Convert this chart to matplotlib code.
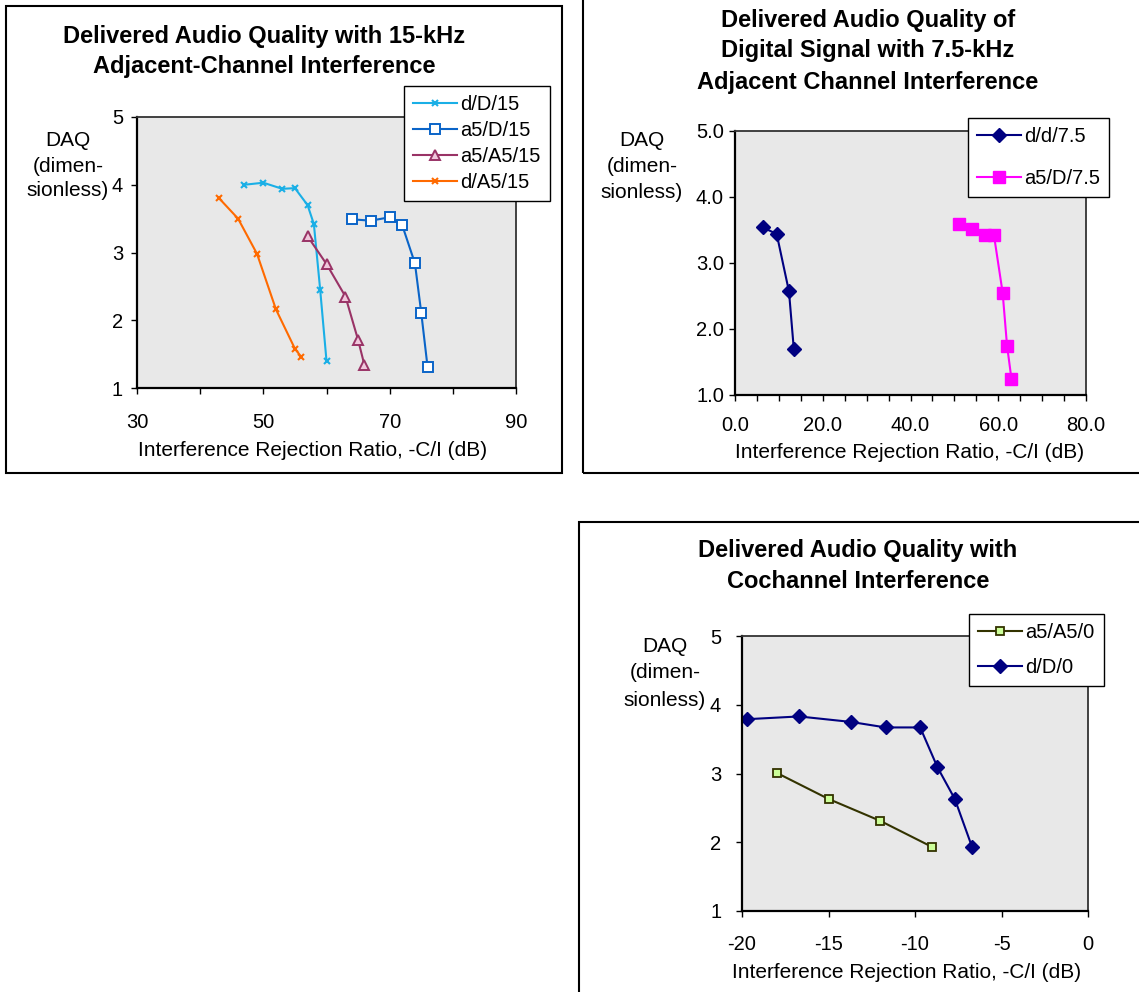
import matplotlib.pyplot as plt
from matplotlib.patches import Rectangle
from matplotlib.ticker import MultipleLocator, FormatStrFormatter

plt.rcParams['font.family'] = ['Liberation Sans', 'DejaVu Sans']
plt.rcParams['axes.unicode_minus'] = False

W, H = 1139, 992

#---------------- data ----------------
# 15 kHz adjacent channel
dD15_x = [47, 50, 53, 55, 57, 58, 59, 60]
dD15_y = [4.00, 4.03, 3.94, 3.95, 3.70, 3.42, 2.45, 1.40]
a5D15_x = [64, 67, 70, 72, 74, 75, 76]
a5D15_y = [3.49, 3.47, 3.52, 3.40, 2.84, 2.11, 1.31]
a5A515_x = [57, 60, 63, 65, 66]
a5A515_y = [3.24, 2.83, 2.35, 1.71, 1.34]
dA515_x = [43, 46, 49, 52, 55, 56]
dA515_y = [3.80, 3.50, 2.98, 2.16, 1.58, 1.46]

# 7.5 kHz adjacent channel
dd75_x = [6.3, 9.5, 12.3, 13.4]
dd75_y = [3.54, 3.44, 2.57, 1.70]
a5D75_x = [51, 54, 57, 59, 61, 62, 63]
a5D75_y = [3.59, 3.51, 3.42, 3.43, 2.55, 1.75, 1.25]

# cochannel
a5A50_x = [-18, -15, -12, -9]
a5A50_y = [3.01, 2.63, 2.31, 1.93]
dD0_x = [-19.7, -16.7, -13.7, -11.7, -9.7, -8.7, -7.7, -6.7]
dD0_y = [3.79, 3.83, 3.75, 3.67, 3.67, 3.09, 2.63, 1.93]

xlabel = 'Interference Rejection Ratio, -C/I (dB)'
ylabel_lines = ['DAQ', '(dimen-', 'sionless)']

TITLE_FS = 17
LABEL_FS = 15
TICK_FS = 14.5

#---------------- helpers ----------------
def fx(x):
    return x / W

def fy(y):
    return 1 - y / H

def make_axes(fig, x0, y0, x1, y1):
    ax = fig.add_axes([fx(x0), fy(y1), (x1 - x0) / W, (y1 - y0) / H])
    ax.set_facecolor('#E8E8E8')
    for s in ['left', 'bottom']:
        ax.spines[s].set_linewidth(1.6)
        ax.spines[s].set_color('black')
    for s in ['top', 'right']:
        ax.spines[s].set_linewidth(1.3)
        ax.spines[s].set_color('#333333')
    ax.tick_params(which='both', direction='out', length=4, width=1, labelsize=TICK_FS)
    return ax

def lines_text(fig, x, ys, lines, **kw):
    for y, t in zip(ys, lines):
        fig.text(fx(x), fy(y), t, ha='center', va='center', **kw)

def frame(fig, x0, y0, x1, y1):
    r = Rectangle((fx(x0), fy(y1)), (x1 - x0) / W, (y1 - y0) / H, transform=fig.transFigure,
                  fill=False, edgecolor='black', linewidth=1.5)
    fig.patches.append(r)

def legend(ax, fig, x0, y0, spacing):
    leg = ax.legend(loc='upper left', bbox_to_anchor=(fx(x0), fy(y0)), bbox_transform=fig.transFigure,
                    borderaxespad=0, fancybox=False, framealpha=1, edgecolor='black',
                    fontsize=14.5, handlelength=2.2, handletextpad=0.15, labelspacing=spacing,
                    borderpad=0.45)
    leg.get_frame().set_linewidth(1.0)
    return leg

fig = plt.figure(figsize=(W / 100, H / 100), dpi=100)

#---------------- panel 1 ----------------
frame(fig, 6, 6, 562, 473)
ax1 = make_axes(fig, 137, 117, 516, 388)
ax1.plot(dD15_x, dD15_y, color='#1AAFE6', lw=1.5, marker='x', ms=4, mew=1.5, label='d/D/15')
ax1.plot(a5D15_x, a5D15_y, color='#0A64C8', lw=1.5, marker='s', ms=6.5, mfc='white', mew=1.4, label='a5/D/15')
ax1.plot(a5A515_x, a5A515_y, color='#993366', lw=1.5, marker='^', ms=7, mfc='#F0C8DC', mew=1.4, label='a5/A5/15')
ax1.plot(dA515_x, dA515_y, color='#FF6A00', lw=1.5, marker='x', ms=4, mew=1.5, label='d/A5/15')
ax1.set_xlim(30, 90)
ax1.set_ylim(1, 5)
ax1.set_xticks([30, 50, 70, 90])
ax1.xaxis.set_minor_locator(MultipleLocator(10))
ax1.set_yticks([1, 2, 3, 4, 5])
ax1.tick_params(axis='x', which='both', pad=14)
ax1.tick_params(axis='y', pad=6)
legend(ax1, fig, 404, 86, 0.35)
lines_text(fig, 264, [36, 67], ['Delivered Audio Quality with 15-kHz', 'Adjacent-Channel Interference'],
           fontsize=TITLE_FS, fontweight='bold')
lines_text(fig, 68, [141, 166, 190], ylabel_lines, fontsize=LABEL_FS)
fig.text(fx(313), fy(450), xlabel, ha='center', va='center', fontsize=LABEL_FS)

#---------------- panel 2 ----------------
frame(fig, 583, -20, 1200, 473)
ax2 = make_axes(fig, 735, 131, 1086, 395)
ax2.plot(dd75_x, dd75_y, color='#000080', lw=1.5, marker='D', ms=7.5, label='d/d/7.5')
ax2.plot(a5D75_x, a5D75_y, color='#FF00FF', lw=1.5, marker='s', ms=9, label='a5/D/7.5')
ax2.set_xlim(0, 80)
ax2.set_ylim(1, 5)
ax2.xaxis.set_major_locator(MultipleLocator(20))
ax2.xaxis.set_minor_locator(MultipleLocator(5))
ax2.yaxis.set_major_locator(MultipleLocator(1))
ax2.xaxis.set_major_formatter(FormatStrFormatter('%.1f'))
ax2.yaxis.set_major_formatter(FormatStrFormatter('%.1f'))
ax2.tick_params(axis='x', which='both', pad=11)
ax2.tick_params(axis='y', pad=4)
legend(ax2, fig, 968, 118, 1.15)
lines_text(fig, 868, [20, 51, 83], ['Delivered Audio Quality of', 'Digital Signal with 7.5-kHz',
                                     'Adjacent Channel Interference'], fontsize=TITLE_FS, fontweight='bold')
lines_text(fig, 642, [140, 166, 193], ylabel_lines, fontsize=LABEL_FS)
fig.text(fx(910), fy(453), xlabel, ha='center', va='center', fontsize=LABEL_FS)

#---------------- panel 3 ----------------
frame(fig, 579, 522, 1200, 1100)
ax3 = make_axes(fig, 742, 636, 1088, 911)
ax3.plot(a5A50_x, a5A50_y, color='#333300', lw=1.5, marker='s', ms=5.5, mfc='#CCFF99', mew=1.3, label='a5/A5/0')
ax3.plot(dD0_x, dD0_y, color='#000080', lw=1.5, marker='D', ms=7.5, label='d/D/0')
ax3.set_xlim(-20, 0)
ax3.set_ylim(1, 5)
ax3.set_xticks([-20, -15, -10, -5, 0])
ax3.set_yticks([1, 2, 3, 4, 5])
ax3.tick_params(axis='x', pad=13)
ax3.tick_params(axis='y', pad=11)
legend(ax3, fig, 969, 614, 0.8)
lines_text(fig, 858, [551, 581], ['Delivered Audio Quality with', 'Cochannel Interference'],
           fontsize=TITLE_FS, fontweight='bold')
lines_text(fig, 665, [647, 673, 700], ylabel_lines, fontsize=LABEL_FS)
fig.text(fx(907), fy(972), xlabel, ha='center', va='center', fontsize=LABEL_FS)

fig.savefig('out.png', dpi=100)
